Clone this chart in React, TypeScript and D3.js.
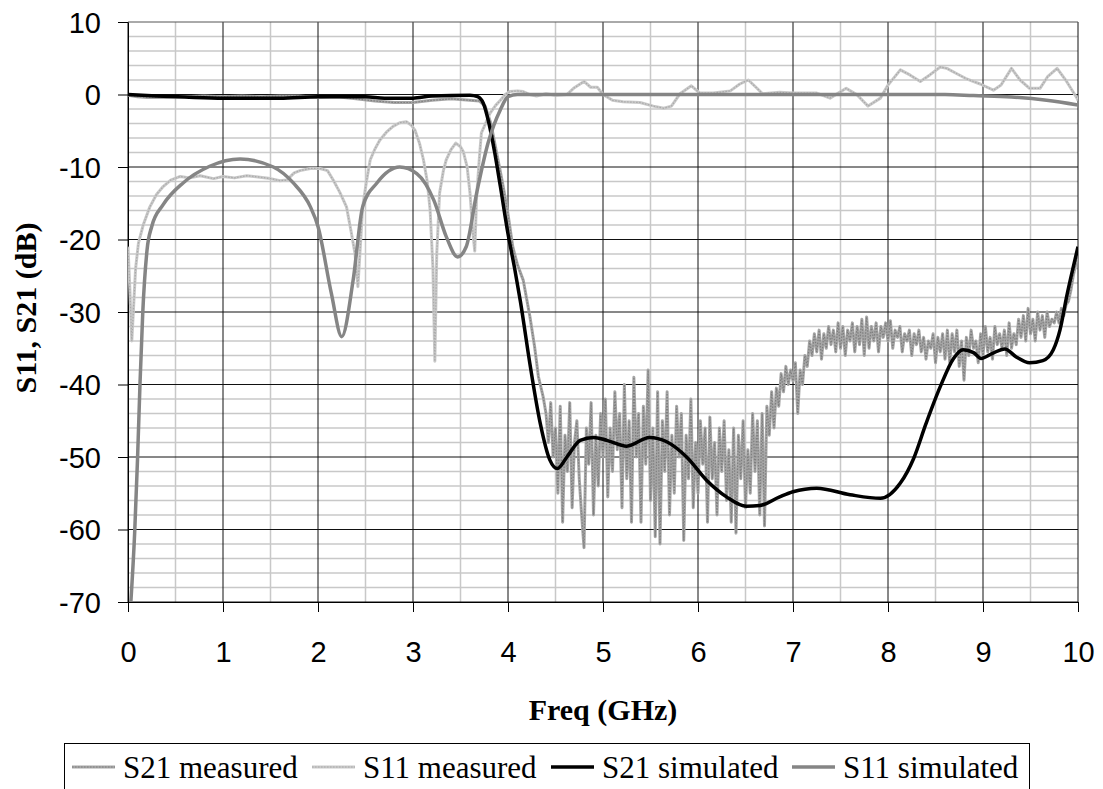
import React, { useEffect, useRef } from "react";
import * as d3 from "d3";

const WIDTH = 1103;
const HEIGHT = 789;
const MARGIN = { top: 22, right: 25, bottom: 187, left: 128 };
const INNER_WIDTH = WIDTH - MARGIN.left - MARGIN.right;
const INNER_HEIGHT = HEIGHT - MARGIN.top - MARGIN.bottom;
const X_DOMAIN = [0, 10];
const Y_DOMAIN = [-70, 10];
const X_SCALE = d3.scaleLinear().domain(X_DOMAIN).range([0, INNER_WIDTH]);
const Y_SCALE = d3.scaleLinear().domain(Y_DOMAIN).range([INNER_HEIGHT, 0]);

const SANS = "'Liberation Sans', Arial, sans-serif";
const SERIF = "'Liberation Serif', 'Times New Roman', serif";

const X_TICKS = [0, 1, 2, 3, 4, 5, 6, 7, 8, 9, 10];
const Y_TICKS = [10, 0, -10, -20, -30, -40, -50, -60, -70];
const LEGEND_LABELS = ["S21 measured", "S11 measured", "S21 simulated", "S11 simulated"];

// S21 measured, pass band + skirt  [GHz, dB]
const S21_MEAS_PASS = [
  [0, -0.1], [0.1, -0.3], [0.2, -0.4], [0.4, -0.4], [0.6, -0.3], [0.8, -0.2],
  [1.0, -0.3], [1.2, -0.2], [1.4, -0.3], [1.6, -0.2], [1.8, -0.2], [2.0, -0.4],
  [2.2, -0.3], [2.4, -0.6], [2.6, -0.9], [2.8, -1.1], [3.0, -1.1], [3.2, -0.8],
  [3.4, -0.6], [3.6, -0.8], [3.7, -0.9], [3.76, -1.6], [3.82, -4], [3.88, -8],
  [3.94, -12], [4.0, -16.5], [4.05, -21], [4.1, -23.5], [4.16, -25.6],
  [4.23, -30.6], [4.28, -34.8], [4.32, -38.9], [4.37, -41.7],
];

// S21 measured, stop band, sampled every 25 MHz from 4.4 GHz
const S21_MEAS_STOP_START = 4.4;
const S21_MEAS_STOP_STEP = 0.025;
const S21_MEAS_STOP = [
  -44, -48, -42.5, -50, -46, -55, -43, -59,
  -47, -52, -42.5, -57, -48, -45, -53, -58,
  -62.5, -46, -51, -42.5, -58, -47, -54, -44,
  -50, -42, -55.5, -46, -52, -41, -49, -44,
  -57, -40, -53, -45, -59, -39, -50, -44,
  -59, -43, -51, -38, -56, -46, -61, -41,
  -62, -45, -52, -41, -58, -47, -55, -43,
  -50, -44, -61.5, -47, -53, -42, -57, -48,
  -55, -45, -51, -46, -59, -44.5, -53, -48,
  -58, -46, -52, -45, -56, -49, -59, -46,
  -60.5, -47, -53, -45, -57, -49, -55, -44,
  -52, -45, -58, -44, -59.5, -43, -47, -41,
  -46, -40.5, -43, -38.5, -41, -37.5, -40, -38,
  -39.5, -37, -44, -38, -40, -36, -37.5, -34,
  -36, -33, -35.5, -32.5, -36.5, -33, -35, -32,
  -34.5, -32.5, -35.5, -31.5, -35, -32, -36, -32.5,
  -34, -31.5, -35.5, -32, -34.5, -31, -36, -30.7,
  -35, -32, -34, -31.5, -35.5, -32, -33.5, -31.5,
  -34, -31.2, -35, -32.5, -33.5, -32, -35.5, -33,
  -34, -32.5, -36, -33, -34.5, -32.5, -35.5, -33.5,
  -36.5, -34, -35, -33, -37, -33.5, -35.5, -33,
  -36.5, -32.5, -37, -33, -35.5, -32.5, -37.5, -34,
  -39.4, -33.5, -36, -32.5, -35, -34, -37, -33,
  -36, -32, -35.5, -33.5, -36.5, -32, -34.5, -33,
  -35, -32.5, -36, -31.5, -35, -33, -34.5, -31,
  -33.5, -30.5, -34, -29.5, -33, -31, -34, -30,
  -32.5, -30.5, -33.5, -30, -32, -31, -31.5, -30,
  -31.5, -29.5, -30.5, -29, -28.5, -27, -25, -23.5,
  -22,
];

const S11_MEAS = [
  [0, -21], [0.02, -27], [0.04, -34], [0.06, -29], [0.08, -24], [0.11, -20.5],
  [0.16, -18], [0.23, -15.5], [0.3, -13.8], [0.37, -12.7], [0.45, -11.8],
  [0.55, -11.3], [0.65, -11.5], [0.76, -11.2], [0.9, -11.6], [1.0, -11.3],
  [1.12, -11.5], [1.25, -11.2], [1.39, -11.4], [1.5, -11.6], [1.6, -11.9],
  [1.67, -11.8], [1.75, -10.8], [1.81, -10.5], [1.92, -10.2], [2.02, -10.2],
  [2.1, -10.5], [2.16, -11.8], [2.23, -13.5], [2.3, -15.5], [2.35, -19],
  [2.39, -22], [2.42, -26.5], [2.45, -20], [2.47, -15.5], [2.51, -12],
  [2.55, -9], [2.6, -7.5], [2.65, -6.3], [2.72, -5.2], [2.79, -4.4],
  [2.86, -3.9], [2.93, -3.75], [2.98, -4.2], [3.02, -4.9], [3.07, -6.8],
  [3.11, -9], [3.15, -12], [3.18, -15.9], [3.21, -24], [3.23, -36.8],
  [3.25, -22], [3.28, -13.6], [3.32, -10.5], [3.35, -9], [3.4, -7.6],
  [3.45, -6.7], [3.5, -7.2], [3.53, -7.9], [3.57, -10], [3.6, -13.6],
  [3.63, -19], [3.65, -21.6], [3.67, -14], [3.7, -8.5], [3.72, -5.3],
  [3.77, -3.8], [3.81, -2.6], [3.87, -1.5], [3.92, -0.8], [3.97, 0],
  [4.02, 0.4], [4.1, 0.5], [4.16, 0.4], [4.23, 0], [4.3, -0.2], [4.4, 0.1],
  [4.5, -0.1], [4.62, 0], [4.69, 0.85], [4.8, 1.8], [4.87, 1.0], [4.94, 1.0],
  [5.0, 0], [5.1, -0.8], [5.21, -1.0], [5.39, -1.1], [5.53, -1.6],
  [5.64, -1.9], [5.72, -1.6], [5.81, 0.1], [5.93, 1.2], [6.02, 0.2],
  [6.16, 0.2], [6.34, 0.5], [6.44, 1.45], [6.53, 2.0], [6.61, 1.0],
  [6.68, 0.1], [6.86, 0.3], [7.0, 0.2], [7.25, 0.2], [7.39, -0.5],
  [7.56, 0.85], [7.67, 0], [7.79, -1.6], [7.92, -0.5], [8.0, 1.3],
  [8.13, 3.4], [8.23, 2.7], [8.34, 1.8], [8.44, 2.7], [8.55, 3.8],
  [8.62, 3.6], [8.72, 2.9], [8.82, 2.2], [8.97, 1.45], [9.11, 0.6],
  [9.19, 1.3], [9.3, 3.6], [9.39, 2.0], [9.49, 0.85], [9.6, 0.85],
  [9.68, 2.45], [9.78, 3.6], [9.88, 1.8], [9.98, -0.3], [10, -0.8],
];

const S21_SIM = [
  [0, 0], [0.3, -0.2], [0.6, -0.35], [1.0, -0.5], [1.6, -0.5], [2.0, -0.3],
  [2.5, -0.3], [2.7, -0.5], [3.0, -0.5], [3.2, -0.2], [3.6, -0.1],
  [3.68, -0.3], [3.74, -1.2], [3.8, -4], [3.86, -8], [3.92, -12.7],
  [4.0, -19.2], [4.07, -24], [4.13, -28.5], [4.23, -37.1], [4.34, -45.4],
  [4.44, -50.4], [4.52, -51.6], [4.62, -50], [4.76, -47.7], [4.9, -47.3],
  [5.04, -47.7], [5.25, -48.5], [5.49, -47.3], [5.67, -47.9], [5.88, -50],
  [6.09, -53.2], [6.3, -55.5], [6.51, -56.8], [6.65, -56.7], [6.86, -55.5],
  [7.0, -54.8], [7.25, -54.3], [7.6, -55.2], [7.92, -55.7], [8.13, -53.6],
  [8.27, -50.2], [8.4, -45.4], [8.55, -40.3], [8.69, -36.4], [8.79, -35.2],
  [8.9, -35.6], [8.98, -36.4], [9.1, -35.7], [9.23, -35.1], [9.35, -36.2],
  [9.49, -37], [9.63, -36.7], [9.74, -35.2], [9.81, -32.5], [9.88, -27.9],
  [9.95, -23.8], [10, -21],
];

const S11_SIM = [
  [0.03, -70], [0.07, -60.5], [0.1, -50.4], [0.126, -40], [0.155, -30.2],
  [0.2, -21.5], [0.25, -18.2], [0.37, -15.2], [0.58, -12.2], [0.86, -9.9],
  [1.18, -8.9], [1.53, -10], [1.74, -12.2], [1.92, -15.5], [2.0, -18.2],
  [2.14, -27.4], [2.25, -33.4], [2.37, -25.6], [2.47, -15.5], [2.62, -12.2],
  [2.86, -10], [3.04, -10.9], [3.22, -14.6], [3.35, -19.6], [3.47, -22.4],
  [3.56, -21], [3.67, -13.6], [3.79, -6.7], [3.92, -2.1], [4.0, -0.3],
  [4.1, 0], [8.6, 0], [8.9, -0.15], [9.3, -0.35], [9.67, -0.8], [10, -1.45],
];

const LINE = d3
  .line()
  .x((d) => X_SCALE(d[0]))
  .y((d) => Y_SCALE(d[1]));
const SMOOTH_LINE = d3
  .line()
  .curve(d3.curveMonotoneX)
  .x((d) => X_SCALE(d[0]))
  .y((d) => Y_SCALE(d[1]));

// measured lines: a grey band with a darker dotted texture on top
const STYLES = [
  { base: "#a6a6a6", dots: "#7e7e7e", width: 3, smooth: false },
  { base: "#c9c9c9", dots: "#a9a9a9", width: 3, smooth: false },
  { base: "#000000", dots: null, width: 3.5, smooth: true },
  { base: "#858585", dots: null, width: 3.5, smooth: true },
];

export default function App() {
  const ref = useRef(null);

  useEffect(() => {
    const root = d3.select(ref.current);
    root.selectAll("*").remove();
    const svg = root
      .append("g")
      .attr("transform", "translate(" + MARGIN.left + "," + MARGIN.top + ")");

    svg
      .append("defs")
      .append("clipPath")
      .attr("id", "plot-clip")
      .append("rect")
      .attr("x", 0)
      .attr("y", -2)
      .attr("width", INNER_WIDTH)
      .attr("height", INNER_HEIGHT + 2);

    // minor grid
    const minorX = d3.range(0.5, 10, 1);
    const minorY = d3.range(-68, 10, 2).filter((v) => v % 10 !== 0);
    svg
      .append("g")
      .selectAll("line")
      .data(minorX)
      .join("line")
      .attr("x1", (d) => X_SCALE(d))
      .attr("x2", (d) => X_SCALE(d))
      .attr("y1", 0)
      .attr("y2", INNER_HEIGHT)
      .attr("stroke", "#c8c8c8")
      .attr("stroke-width", 1.5);
    svg
      .append("g")
      .selectAll("line")
      .data(minorY)
      .join("line")
      .attr("x1", 0)
      .attr("x2", INNER_WIDTH)
      .attr("y1", (d) => Y_SCALE(d))
      .attr("y2", (d) => Y_SCALE(d))
      .attr("stroke", "#c8c8c8")
      .attr("stroke-width", 1.5);

    // major grid
    svg
      .append("g")
      .selectAll("line")
      .data(X_TICKS)
      .join("line")
      .attr("x1", (d) => X_SCALE(d))
      .attr("x2", (d) => X_SCALE(d))
      .attr("y1", 0)
      .attr("y2", INNER_HEIGHT)
      .attr("stroke", "#111")
      .attr("stroke-width", 1);
    svg
      .append("g")
      .selectAll("line")
      .data(Y_TICKS)
      .join("line")
      .attr("x1", 0)
      .attr("x2", INNER_WIDTH)
      .attr("y1", (d) => Y_SCALE(d))
      .attr("y2", (d) => Y_SCALE(d))
      .attr("stroke", (d) => (d === 10 ? "#555" : "#111"))
      .attr("stroke-width", 1);

    // axes (plain hyphen minus like the original)
    const fmt = (d) => String(d);
    const yAxis = d3.axisLeft(Y_SCALE).tickValues(Y_TICKS).tickFormat(fmt).tickSize(10).tickSizeOuter(0).tickPadding(17);
    const xAxis = d3.axisBottom(X_SCALE).tickValues(X_TICKS).tickFormat(fmt).tickSize(10).tickSizeOuter(0).tickPadding(29);
    const gy = svg.append("g").call(yAxis);
    const gx = svg.append("g").attr("transform", "translate(0," + INNER_HEIGHT + ")").call(xAxis);
    [gx, gy].forEach((g) => {
      g.selectAll("path").attr("stroke", "#000");
      g.selectAll("line").attr("stroke", "#000");
      g.selectAll("text")
        .attr("fill", "#000")
        .attr("font-family", SANS)
        .attr("font-size", "29px");
    });
    gy.selectAll("text").attr("dy", "0.36em");

    // series
    const plot = svg.append("g").attr("clip-path", "url(#plot-clip)");
    const s21Meas = S21_MEAS_PASS.concat(
      S21_MEAS_STOP.map((v, i) => [S21_MEAS_STOP_START + i * S21_MEAS_STOP_STEP, v])
    );
    const series = [s21Meas, S11_MEAS, S21_SIM, S11_SIM];
    series.forEach((data, i) => {
      const st = STYLES[i];
      const gen = st.smooth ? SMOOTH_LINE : LINE;
      plot
        .append("path")
        .attr("d", gen(data))
        .attr("fill", "none")
        .attr("stroke", st.base)
        .attr("stroke-width", st.width)
        .attr("stroke-linejoin", "round");
      if (st.dots)
        plot
          .append("path")
          .attr("d", gen(data))
          .attr("fill", "none")
          .attr("stroke", st.dots)
          .attr("stroke-width", 1.2)
          .attr("stroke-dasharray", "1.5 1.5");
    });

    // axis titles
    svg
      .append("text")
      .attr("x", INNER_WIDTH / 2)
      .attr("y", 698)
      .attr("text-anchor", "middle")
      .attr("font-family", SERIF)
      .attr("font-weight", "bold")
      .attr("font-size", "30px")
      .text("Freq (GHz)");
    svg
      .append("text")
      .attr("transform", "translate(" + (36 - MARGIN.left) + "," + (308 - MARGIN.top) + ") rotate(-90)")
      .attr("text-anchor", "middle")
      .attr("font-family", SERIF)
      .attr("font-weight", "bold")
      .attr("font-size", "30px")
      .text("S11, S21 (dB)");

    // legend
    const legend = root.append("g");
    legend
      .append("rect")
      .attr("x", 64.5)
      .attr("y", 743.5)
      .attr("width", 965)
      .attr("height", 80)
      .attr("fill", "#fff")
      .attr("stroke", "#000")
      .attr("stroke-width", 1);
    const sampleX = [72, 312, 551, 792];
    LEGEND_LABELS.forEach((label, i) => {
      const st = STYLES[i];
      legend
        .append("line")
        .attr("x1", sampleX[i])
        .attr("x2", sampleX[i] + 43)
        .attr("y1", 767)
        .attr("y2", 767)
        .attr("stroke", st.base)
        .attr("stroke-width", st.width);
      if (st.dots)
        legend
          .append("line")
          .attr("x1", sampleX[i])
          .attr("x2", sampleX[i] + 43)
          .attr("y1", 767)
          .attr("y2", 767)
          .attr("stroke", st.dots)
          .attr("stroke-width", 1.2)
          .attr("stroke-dasharray", "1.5 1.5");
      legend
        .append("text")
        .attr("x", sampleX[i] + 51)
        .attr("y", 778)
        .attr("font-family", SERIF)
        .attr("font-size", "31px")
        .attr("fill", "#000")
        .text(label);
    });
  }, []);

  return (
    <svg
      ref={ref}
      width={WIDTH}
      height={HEIGHT}
      style={{ position: "absolute", left: 0, top: 0, background: "#fff" }}
    />
  );
}
